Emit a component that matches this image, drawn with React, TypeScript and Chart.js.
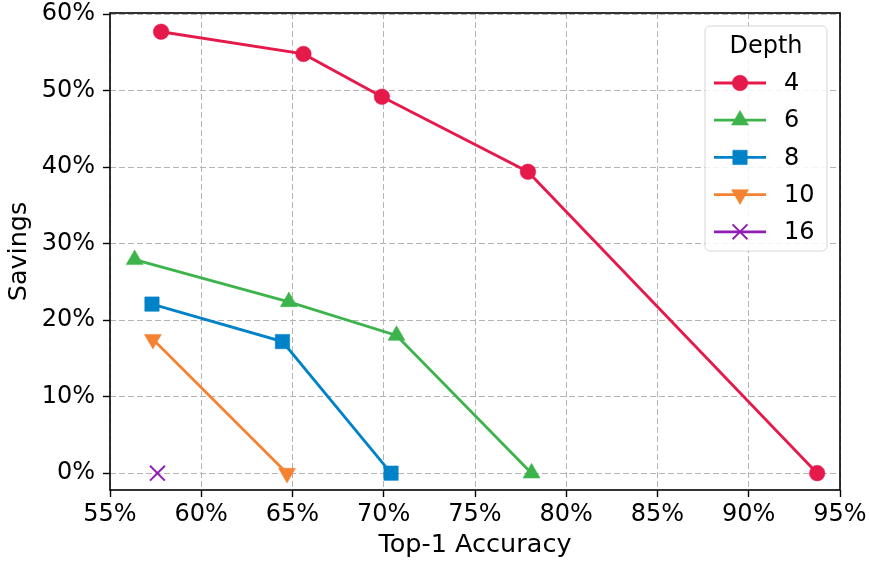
import React, { useEffect, useRef } from "react";
import { Chart, registerables } from "chart.js";
import { drawPoint } from "chart.js/helpers";

Chart.register(...registerables);

const depthLabels = ["4", "6", "8", "10", "16"];
const colors = ["#e6194b", "#3cb44b", "#0082c8", "#f58231", "#911eb4"];

const acc4 = [57.8, 65.6, 69.9, 77.9, 93.75];
const sav4 = [57.7, 54.8, 49.2, 39.4, 0];
const acc6 = [56.35, 64.8, 70.7, 78.1];
const sav6 = [27.9, 22.4, 18.0, 0];
const acc8 = [57.3, 64.45, 70.4];
const sav8 = [22.1, 17.2, 0];
const acc10 = [57.35, 64.7];
const sav10 = [17.5, 0];
const acc16 = [57.6];
const sav16 = [0];

const xTicks = [55, 60, 65, 70, 75, 80, 85, 90, 95];
const yTicks = [0, 10, 20, 30, 40, 50, 60];

const FONT = "'DejaVu Sans', sans-serif";

const series = [
  { acc: acc4, sav: sav4, style: "circle", radius: 7.8, rotation: 0 },
  { acc: acc6, sav: sav6, style: "triangle", radius: 9.8, rotation: 0 },
  { acc: acc8, sav: sav8, style: "rect", radius: 10.2, rotation: 0 },
  { acc: acc10, sav: sav10, style: "triangle", radius: 9.8, rotation: 180 },
  { acc: acc16, sav: sav16, style: "crossRot", radius: 10.5, rotation: 0 },
];

const boxPlugin = {
  id: "frameAndLegend",
  afterDatasetsDraw(chart: any) {
    const { ctx, chartArea } = chart;
    ctx.save();
    ctx.strokeStyle = "#000";
    ctx.lineWidth = 1.6;
    ctx.strokeRect(chartArea.left, chartArea.top, chartArea.right - chartArea.left, chartArea.bottom - chartArea.top);

    // legend
    const bx = chartArea.right - 135;
    const by = chartArea.top + 13;
    const bw = 122;
    const bh = 225;
    ctx.beginPath();
    if ((ctx as any).roundRect) (ctx as any).roundRect(bx, by, bw, bh, 5);
    else ctx.rect(bx, by, bw, bh);
    ctx.fillStyle = "rgba(255,255,255,0.85)";
    ctx.fill();
    ctx.strokeStyle = "#d6d6d6";
    ctx.lineWidth = 1;
    ctx.stroke();

    ctx.fillStyle = "#000";
    ctx.font = `24px ${FONT}`;
    ctx.textAlign = "center";
    ctx.textBaseline = "middle";
    ctx.fillText("Depth", bx + bw / 2, by + 21);

    chart.data.datasets.forEach((ds: any, i: number) => {
      const cy = by + 57 + i * 37.2;
      ctx.strokeStyle = ds.borderColor;
      ctx.lineWidth = ds.borderWidth;
      ctx.setLineDash([]);
      ctx.beginPath();
      ctx.moveTo(bx + 9, cy);
      ctx.lineTo(bx + 61, cy);
      ctx.stroke();
      ctx.fillStyle = ds.pointBackgroundColor;
      ctx.strokeStyle = ds.pointBorderColor;
      ctx.lineWidth = ds.pointBorderWidth;
      drawPoint(
        ctx,
        {
          pointStyle: ds.pointStyle,
          rotation: ds.pointRotation,
          radius: ds.pointRadius,
          borderWidth: ds.pointBorderWidth,
        } as any,
        bx + 35,
        cy
      );
      ctx.fillStyle = "#000";
      ctx.textAlign = "left";
      ctx.fillText(ds.label, bx + 79, cy + 1);
    });
    ctx.restore();
  },
};

const gridOpts = {
  color: "#b4b4b4",
  lineWidth: 1,
  drawTicks: true,
  tickLength: 7,
  tickColor: "#000",
  tickWidth: 1.4,
};

export default function App() {
  const ref = useRef<HTMLCanvasElement | null>(null);
  useEffect(() => {
    if (!ref.current) return;
    const datasets = series.map((s, i) => ({
      label: depthLabels[i],
      data: s.acc.map((a, j) => ({ x: a, y: s.sav[j] })),
      borderColor: colors[i],
      backgroundColor: colors[i],
      pointBackgroundColor: colors[i],
      pointBorderColor: colors[i],
      pointStyle: s.style,
      pointRotation: s.rotation,
      pointRadius: s.radius,
      pointBorderWidth: s.style === "crossRot" ? 2 : 0.5,
      borderWidth: 2.8,
      showLine: true,
      tension: 0,
    }));
    const chart = new Chart(ref.current, {
      type: "scatter",
      data: { datasets },
      plugins: [boxPlugin],
      options: {
        animation: false,
        responsive: false,
        maintainAspectRatio: false,
        devicePixelRatio: 1,
        layout: { padding: { left: 0, top: 13, right: 29, bottom: 0 } },
        plugins: {
          legend: { display: false },
          tooltip: { enabled: false },
        },
        scales: {
          x: {
            type: "linear",
            min: 55,
            max: 95,
            afterBuildTicks: (scale: any) => {
              scale.ticks = xTicks.map((v) => ({ value: v }));
            },
            afterFit: (scale: any) => {
              scale.height = 75;
              scale.paddingLeft = 0;
              scale.paddingRight = 0;
            },
            border: { display: false, dash: [6, 3] },
            grid: gridOpts,
            ticks: {
              color: "#000",
              font: { family: FONT, size: 24 },
              padding: 3,
              maxRotation: 0,
              autoSkip: false,
              callback: (v: any) => `${v}%`,
            },
            title: {
              display: true,
              text: "Top-1 Accuracy",
              color: "#000",
              font: { family: FONT, size: 25.5 },
              padding: { top: 0, bottom: 4 },
            },
          },
          y: {
            type: "linear",
            min: -2.2,
            max: 60.15,
            afterBuildTicks: (scale: any) => {
              scale.ticks = yTicks.map((v) => ({ value: v }));
            },
            afterFit: (scale: any) => {
              scale.width = 110;
              scale.paddingTop = 0;
              scale.paddingBottom = 0;
            },
            border: { display: false, dash: [6, 3] },
            grid: gridOpts,
            ticks: {
              color: "#000",
              font: { family: FONT, size: 24 },
              padding: 8,
              autoSkip: false,
              callback: (v: any) => `${v}%`,
            },
            title: {
              display: true,
              text: "Savings",
              color: "#000",
              font: { family: FONT, size: 25.5 },
              padding: { top: 4, bottom: 0 },
            },
          },
        },
      } as any,
    });
    return () => chart.destroy();
  }, []);
  return (
    <div style={{ position: "absolute", left: 0, top: 0, width: 869, height: 565, background: "#fff" }}>
      <canvas ref={ref} width={869} height={565} style={{ width: 869, height: 565 }} />
    </div>
  );
}
